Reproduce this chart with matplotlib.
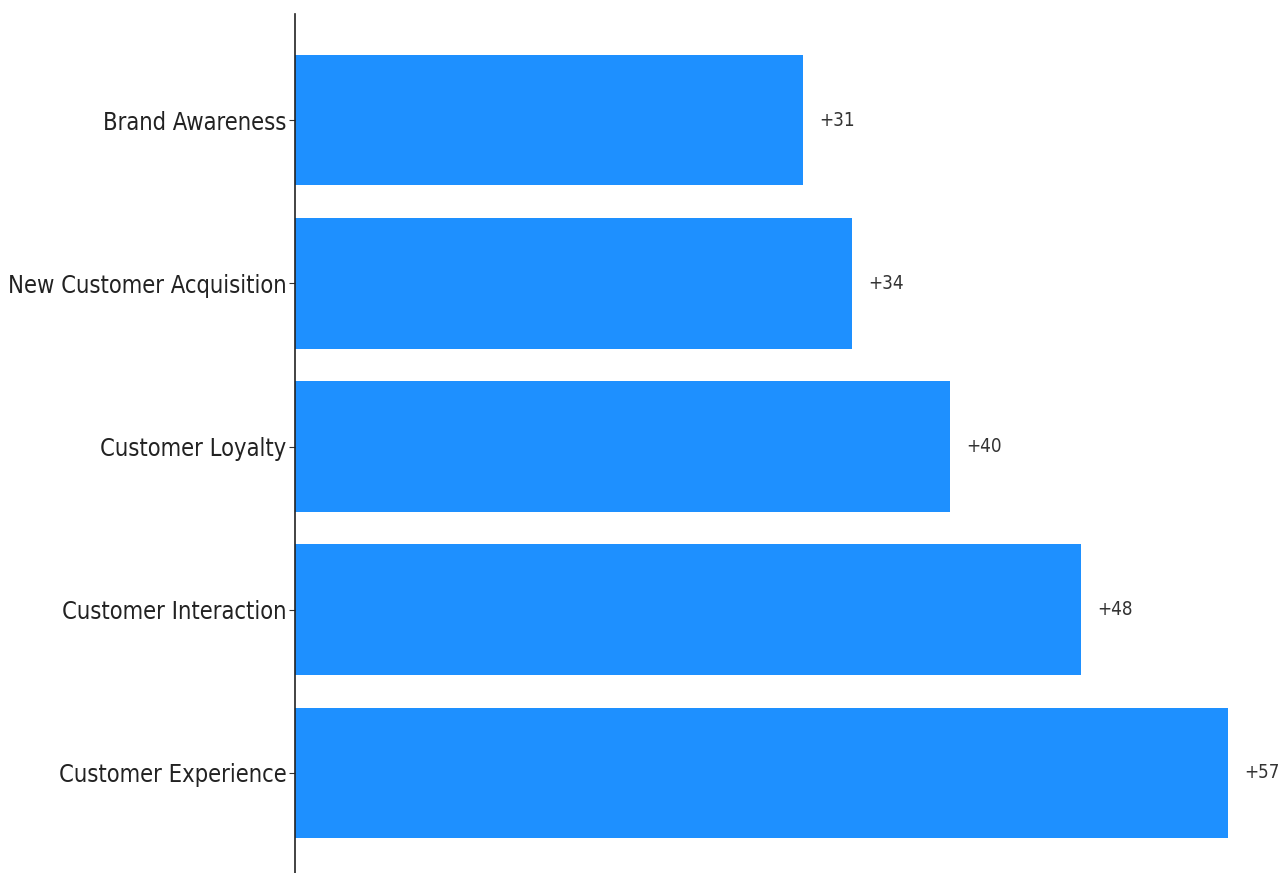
import matplotlib
matplotlib.use("Agg")
import matplotlib.pyplot as plt

categories = ["Customer Experience", "Customer Interaction", "Customer Loyalty",
              "New Customer Acquisition", "Brand Awareness"]
values = [57, 48, 40, 34, 31]
value_labels = ["+57", "+48", "+40", "+34", "+31"]

plt.rcParams['font.family'] = ['DejaVu Sans']

fig = plt.figure(figsize=(12.83, 8.73), dpi=100)
W, H = 1283, 873
ax = fig.add_axes([295 / W, -6 / H, (1283 - 295) / W, (879 - 14) / H])

y = range(len(categories))
ax.barh(y, values, height=0.8, color="#1E90FF")
ax.set_ylim(-0.65, 4.65)
ax.set_xlim(0, 60.35)

for yi, v, lab in zip(y, values, value_labels):
    ax.text(v + 1.0, yi, lab, va="center", ha="left", fontsize=13.5,
            fontstretch="condensed", color="#333333", clip_on=False)

ax.set_yticks(list(y))
ax.set_yticklabels(categories, fontsize=17, fontstretch="condensed",
                   color="#222222")
ax.tick_params(axis="y", length=4, color="#333333", pad=2)
ax.set_xticks([])
for s in ["top", "right", "bottom"]:
    ax.spines[s].set_visible(False)
ax.spines["left"].set_color("#222222")
ax.spines["left"].set_linewidth(1.2)

fig.savefig("out.png", dpi=100)
